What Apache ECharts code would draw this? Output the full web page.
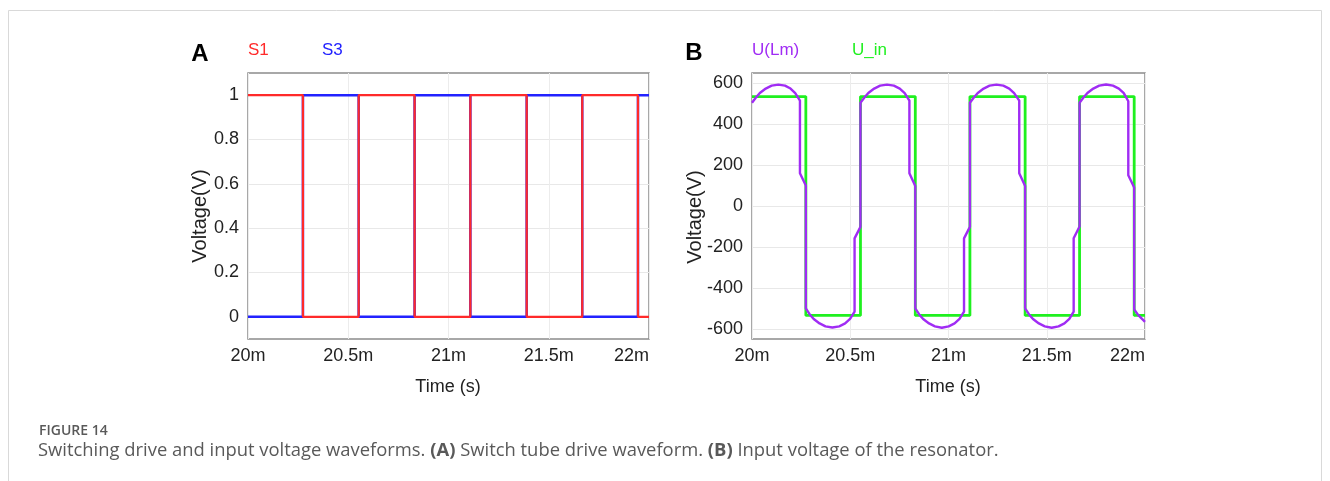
<!DOCTYPE html>
<html>
<head>
<meta charset="utf-8">
<script src="https://cdn.jsdelivr.net/npm/echarts@6/dist/echarts.min.js"></script>
<style>
  html, body { margin: 0; padding: 0; background: #ffffff; }
  #chart { width: 1330px; height: 481px; }
</style>
</head>
<body>
<div id="chart"></div>
<script>
// Time axis (ms) and the tick values that carry labels
const timeTicks = [20, 20.5, 21, 21.5, 22];
const voltTicksA = [0, 0.2, 0.4, 0.6, 0.8, 1];
const voltTicksB = [-600, -400, -200, 0, 200, 400, 600];

// Switching instants (ms); each level holds until the next instant
const switchTimes = [20, 20.274, 20.552, 20.831, 21.109, 21.390, 21.667, 21.945, 22];
const s1Levels = [1, 0, 1, 0, 1, 0, 1, 0, 0];
const s3Levels = [0, 1, 0, 1, 0, 1, 0, 1, 1];
const uInLevels = [535, -535, 535, -535, 535, -535, 535, -535, -535];

// Magnetizing-inductance voltage U(Lm): [time ms, volts]
const uLm = [
  [20.000, 505], [20.020, 530], [20.040, 552], [20.070, 574], [20.100, 588], [20.134, 593],
  [20.168, 588], [20.196, 574], [20.220, 552], [20.244, 515], [20.244, 160], [20.274, 100],
  [20.274, -500], [20.294, -530], [20.314, -552], [20.344, -574], [20.374, -588], [20.409, -594],
  [20.444, -588], [20.474, -574], [20.499, -552], [20.522, -516], [20.522, -158], [20.552, -102],
  [20.552, 505], [20.572, 530], [20.592, 552], [20.622, 574], [20.652, 588], [20.687, 593],
  [20.722, 588], [20.752, 574], [20.777, 552], [20.801, 515], [20.801, 160], [20.831, 98],
  [20.831, -500], [20.851, -530], [20.871, -552], [20.901, -574], [20.931, -588], [20.966, -595],
  [21.001, -588], [21.031, -574], [21.056, -552], [21.079, -516], [21.079, -158], [21.109, -102],
  [21.109, 505], [21.129, 530], [21.149, 552], [21.179, 574], [21.209, 588], [21.244, 593],
  [21.279, 588], [21.309, 574], [21.334, 552], [21.360, 515], [21.360, 160], [21.390, 98],
  [21.390, -500], [21.410, -530], [21.430, -552], [21.460, -574], [21.490, -588], [21.525, -595],
  [21.560, -588], [21.590, -574], [21.615, -552], [21.637, -516], [21.637, -158], [21.667, -100],
  [21.667, 505], [21.687, 530], [21.707, 552], [21.737, 574], [21.767, 588], [21.802, 594],
  [21.837, 588], [21.867, 574], [21.892, 552], [21.915, 512], [21.915, 150], [21.945, 90],
  [21.945, -505], [21.965, -532], [21.985, -552], [22.000, -566]
];

const COLORS = { s1: '#ff2a2a', s3: '#2222ff', lm: '#a02cf4', uin: '#1ff01f' };
const FONT = '"Liberation Sans", Arial, Helvetica, sans-serif';
const CAPTION_FONT = '"Open Sans", sans-serif';

const pairs = (levels) => switchTimes.map((t, i) => [t, levels[i]]);
const isTick = (list, v) => list.some(t => Math.abs(t - v) < 1e-6);

function timeAxis(gridIndex) {
  return {
    type: 'value', gridIndex, min: 20, max: 22, interval: 0.5,
    axisLine: { show: false }, axisTick: { show: false },
    axisLabel: {
      color: '#222', fontSize: 18, fontFamily: FONT, margin: 8,
      alignMaxLabel: 'right',
      formatter: v => isTick(timeTicks, v) ? (+v.toFixed(1)) + 'm' : ''
    },
    splitLine: { show: true, lineStyle: { color: '#ececec', width: 1 } }
  };
}

function voltAxis(gridIndex, min, max, interval, ticks, colors) {
  return {
    type: 'value', gridIndex, min, max, interval,
    axisLine: { show: false }, axisTick: { show: false },
    axisLabel: {
      color: '#222', fontSize: 18, fontFamily: FONT, margin: 9,
      formatter: v => isTick(ticks, v) ? String(+v.toFixed(1)) : ''
    },
    splitLine: { show: true, lineStyle: { color: colors, width: 1 } }
  };
}

// split-line colours cycle per tick, so only the labelled ticks get a visible line
const T = 'rgba(0,0,0,0)';
const G = '#e8e8e8';

const option = {
  backgroundColor: '#ffffff',
  animation: false,
  grid: [
    { left: 248, top: 73, width: 401, height: 266, show: true, borderColor: '#8c8c8c', borderWidth: 1.5, backgroundColor: '#fff' },
    { left: 752, top: 73, width: 393, height: 266, show: true, borderColor: '#8c8c8c', borderWidth: 1.5, backgroundColor: '#fff' }
  ],
  xAxis: [timeAxis(0), timeAxis(1)],
  yAxis: [
    voltAxis(0, -0.1, 1.1, 0.1, voltTicksA, [T, G]),
    voltAxis(1, -650, 650, 50, voltTicksB, [T, G, T, T])
  ],
  series: [
    { name: 'S3', type: 'line', xAxisIndex: 0, yAxisIndex: 0, step: 'end', showSymbol: false,
      data: pairs(s3Levels), lineStyle: { color: COLORS.s3, width: 2.5 } },
    { name: 'S1', type: 'line', xAxisIndex: 0, yAxisIndex: 0, step: 'end', showSymbol: false,
      data: pairs(s1Levels), lineStyle: { color: COLORS.s1, width: 2.2 } },
    { name: 'U_in', type: 'line', xAxisIndex: 1, yAxisIndex: 1, step: 'end', showSymbol: false,
      data: pairs(uInLevels), lineStyle: { color: COLORS.uin, width: 2.8 } },
    { name: 'U(Lm)', type: 'line', xAxisIndex: 1, yAxisIndex: 1, showSymbol: false,
      data: uLm, lineStyle: { color: COLORS.lm, width: 2.4, join: 'round' } }
  ],
  graphic: [
    { type: 'rect', silent: true, z: -10,
      shape: { x: 8.5, y: 10.5, width: 1313, height: 490 },
      style: { fill: 'none', stroke: '#d9d9d9', lineWidth: 1 } },
    // panel letters and legends
    { type: 'text', x: 200, y: 54, style: { text: 'A', font: 'bold 24px ' + FONT, fill: '#000', align: 'center', verticalAlign: 'middle' } },
    { type: 'text', x: 248, y: 50, style: { text: 'S1', font: '17px ' + FONT, fill: COLORS.s1, align: 'left', verticalAlign: 'middle' } },
    { type: 'text', x: 322, y: 50, style: { text: 'S3', font: '17px ' + FONT, fill: COLORS.s3, align: 'left', verticalAlign: 'middle' } },
    { type: 'text', x: 694, y: 53, style: { text: 'B', font: 'bold 24px ' + FONT, fill: '#000', align: 'center', verticalAlign: 'middle' } },
    { type: 'text', x: 752, y: 50, style: { text: 'U(Lm)', font: '17px ' + FONT, fill: COLORS.lm, align: 'left', verticalAlign: 'middle' } },
    { type: 'text', x: 852, y: 50, style: { text: 'U_in', font: '17px ' + FONT, fill: COLORS.uin, align: 'left', verticalAlign: 'middle' } },
    // axis titles
    { type: 'text', x: 200, y: 216, rotation: Math.PI / 2, style: { text: 'Voltage(V)', font: '20px ' + FONT, fill: '#222', align: 'center', verticalAlign: 'middle' } },
    { type: 'text', x: 695, y: 217, rotation: Math.PI / 2, style: { text: 'Voltage(V)', font: '20px ' + FONT, fill: '#222', align: 'center', verticalAlign: 'middle' } },
    { type: 'text', x: 448, y: 387, style: { text: 'Time (s)', font: '18px ' + FONT, fill: '#222', align: 'center', verticalAlign: 'middle' } },
    { type: 'text', x: 948, y: 387, style: { text: 'Time (s)', font: '18px ' + FONT, fill: '#222', align: 'center', verticalAlign: 'middle' } },
    // caption
    { type: 'text', x: 39, y: 431, style: { text: 'FIGURE 14', font: '600 14px ' + CAPTION_FONT, fill: '#595959', align: 'left', verticalAlign: 'middle' } },
    { type: 'text', x: 38, y: 451, style: {
        text: 'Switching drive and input voltage waveforms. {b|(A)} Switch tube drive waveform. {b|(B)} Input voltage of the resonator.',
        font: '18.4px ' + CAPTION_FONT, fill: '#595959', align: 'left', verticalAlign: 'middle',
        rich: { b: { font: 'bold 18.4px ' + CAPTION_FONT, fill: '#595959' } } } }
  ]
};

const chart = echarts.init(document.getElementById('chart'), null, { renderer: 'canvas' });
chart.setOption(option);
</script>
</body>
</html>
